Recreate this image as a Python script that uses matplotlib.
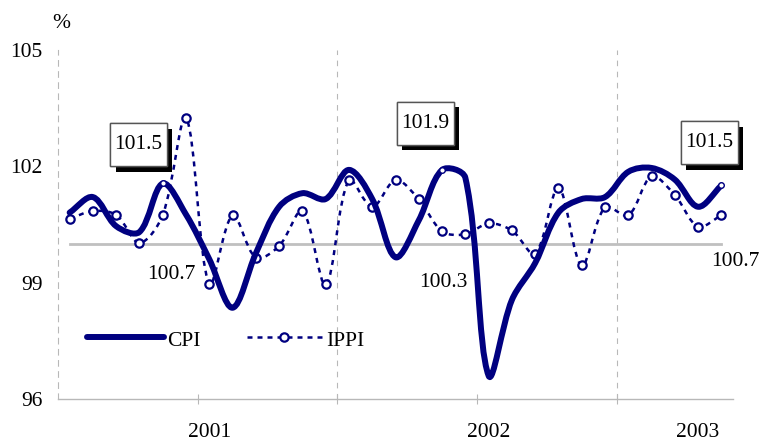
import matplotlib

matplotlib.use("Agg")
import matplotlib.pyplot as plt
import numpy as np
from matplotlib import patheffects as pe
from matplotlib.path import Path
from matplotlib.patches import PathPatch, Rectangle
from matplotlib.transforms import blended_transform_factory

# monthly indices, previous year = 100
cpi = [100.8, 101.2, 100.45, 100.3, 101.55, 100.75, 99.6, 98.35, 99.75, 100.95,
       101.3, 101.15, 101.9, 101.15, 99.65, 100.6, 101.9, 101.7, 96.6, 98.55,
       99.5, 100.8, 101.15, 101.2, 101.85, 101.95, 101.65, 100.95, 101.5]
ippi = [100.64, 100.84, 100.74, 100.02, 100.74, 103.24, 98.95, 100.73, 99.64, 99.94,
        100.84, 98.95, 101.64, 100.94, 101.64, 101.14, 100.32, 100.24, 100.52, 100.34,
        99.74, 101.44, 99.44, 100.94, 100.73, 101.73, 101.25, 100.44, 100.73]
base = [100.0] * len(cpi)

year_labels = ["2001", "2002", "2003"]
year_pos = [6, 18, 27]
boundaries = [5.5, 11.5, 17.5, 23.5]
year_grid = [11.5, 23.5]
yticks = [96, 99, 102, 105]

callout_idx = [4, 16, 28]
cpi_labels = ["101.5", "101.9", "101.5"]
cpi_offsets = [(-17.3, 27.9), (-12, 33.6), (-8.8, 30.7)]
ippi_labels = ["100.7", "100.3", "100.7"]
ippi_offsets = [(6, -43.2), (1, -37.2), (10, -33.5)]

NAVY = "#000080"
GREY = "#b8b8b8"

plt.rcParams["font.family"] = ["Liberation Serif", "DejaVu Serif"]
plt.rcParams["font.size"] = 15.5


def smooth_path(ax, y):
    """Excel-style smoothed line: Bezier segments, control points in screen space."""
    x = np.arange(len(y))
    pts = ax.transData.transform(np.column_stack([x, y]))
    n = len(pts)
    verts, codes = [pts[0]], [Path.MOVETO]
    for i in range(n - 1):
        p0, p1 = pts[max(i - 1, 0)], pts[i]
        p2, p3 = pts[i + 1], pts[min(i + 2, n - 1)]
        d01, d12, d23 = (np.hypot(*(p1 - p0)), np.hypot(*(p2 - p1)),
                         np.hypot(*(p3 - p2)))
        c1 = p1 + (p2 - p0) * d12 / (d01 + d12) / 3
        c2 = p2 - (p3 - p1) * d12 / (d12 + d23) / 3
        verts += [c1, c2, p2]
        codes += [Path.CURVE4] * 3
    verts = ax.transData.inverted().transform(np.array(verts))
    return Path(verts, codes)


def tall_box(x0, y0, width, height, mutation_size):
    """Square box with little side padding and more room above/below."""
    px, py = 0.2 * mutation_size, 0.55 * mutation_size
    x0, y0, x1, y1 = x0 - px, y0 - py, x0 + width + px, y0 + height + py
    return Path([(x0, y0), (x1, y0), (x1, y1), (x0, y1), (x0, y0)],
                [Path.MOVETO, Path.LINETO, Path.LINETO, Path.LINETO, Path.CLOSEPOLY])


fig = plt.figure(figsize=(7.62, 4.43), dpi=100)
ax = fig.add_axes([58 / 762, 1 - 399 / 443, 675 / 762, 349.5 / 443])
ax.set_xlim(-0.5, len(cpi) - 0.5)
ax.set_ylim(96, 105)

# axes styling
for s in ("top", "right"):
    ax.spines[s].set_visible(False)
ax.spines["left"].set_color(GREY)
ax.spines["left"].set_linestyle((0, (5, 5)))
ax.spines["left"].set_linewidth(0.8)
ax.spines["bottom"].set_color(GREY)
ax.spines["bottom"].set_linewidth(1.0)
ax.set_yticks(yticks)
ax.tick_params(axis="y", length=0, pad=11)
ax.set_xticks(boundaries)
ax.tick_params(axis="x", direction="inout", length=7, color=GREY, labelbottom=False)
for xg in year_grid:
    ax.axvline(xg, color=GREY, lw=0.8, ls=(0, (5, 5)), zorder=0)

xt = blended_transform_factory(ax.transData, ax.transAxes)
for lab, xp in zip(year_labels, year_pos):
    ax.text(xp, -0.097, lab, transform=xt, ha="center", va="center")
ax.text(0.005, 1.075, "%", transform=ax.transAxes, ha="center", va="center")

x = np.arange(len(cpi))
ax.plot(x, base, color="#c0c0c0", lw=2.0, zorder=1)

ax.add_patch(PathPatch(smooth_path(ax, ippi), fill=False, edgecolor=NAVY, lw=1.8,
                       linestyle=(0, (2, 2)), zorder=2))
ax.plot(x, ippi, ls="none", marker="o", ms=6, mfc="white", mec=NAVY, mew=1.6, zorder=3)

ax.add_patch(PathPatch(smooth_path(ax, cpi), fill=False, edgecolor=NAVY, lw=4.3,
                       capstyle="round", joinstyle="round", zorder=4))
ax.plot(callout_idx, [cpi[i] for i in callout_idx], ls="none", marker="o", ms=4,
        mfc="white", mec=NAVY, mew=1.0, zorder=5)

# callouts
for i, lab, off in zip(callout_idx, cpi_labels, cpi_offsets):
    t = ax.annotate(lab, (i, cpi[i]), xytext=off, textcoords="offset points",
                    ha="center", va="center", zorder=6,
                    bbox=dict(boxstyle=tall_box, fc="white", ec="#555555", lw=1))
    t.get_bbox_patch().set_path_effects([
        pe.withSimplePatchShadow(offset=(3.8, -4), shadow_rgbFace="black", alpha=1.0),
        pe.Normal()])
for i, lab, off in zip(callout_idx, ippi_labels, ippi_offsets):
    ax.annotate(lab, (i, ippi[i]), xytext=off, textcoords="offset points",
                ha="center", va="center", zorder=6)

# legend, drawn by hand (text is clipped at the bottom like the original)
clip = Rectangle((0, 0.143), 1, 1, transform=ax.transAxes)
ax.plot([0.0425, 0.157], [0.1774, 0.1774], transform=ax.transAxes, color=NAVY,
        lw=4.3, solid_capstyle="round", clip_on=False)
ax.plot([0.28, 0.3956], [0.1774, 0.1774], transform=ax.transAxes, color=NAVY,
        lw=1.8, ls=(0, (2, 2)), clip_on=False)
ax.plot([0.335], [0.1774], transform=ax.transAxes, marker="o", ms=6, mfc="white",
        mec=NAVY, mew=1.6, clip_on=False)
for lx, lab in ((0.161, "CPI"), (0.397, "IPPI")):
    t = ax.text(lx, 0.192, lab, transform=ax.transAxes, ha="left", va="top")
    t.set_clip_path(clip)

fig.savefig("out.png", dpi=100, facecolor="white")
